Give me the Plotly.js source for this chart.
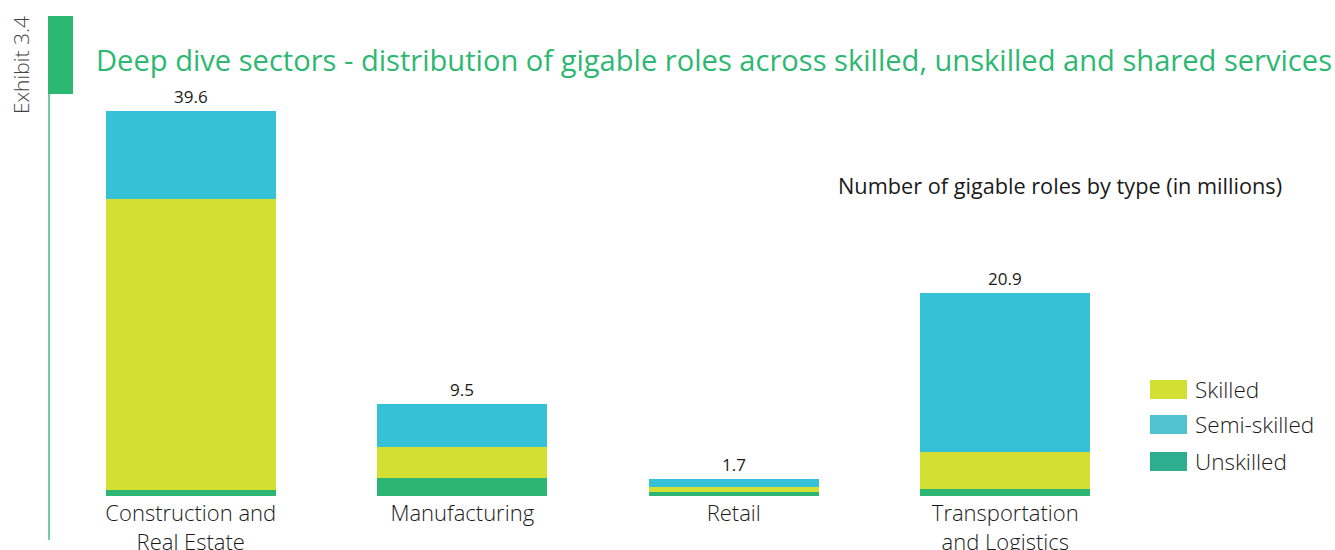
<!DOCTYPE html>
<html><head><meta charset="utf-8">
<script src="https://cdn.plot.ly/plotly-3.0.1.min.js"></script>
<style>html,body{margin:0;padding:0;background:#fff;}#chart{width:1335px;height:550px;}</style>
</head><body><div id="chart"></div>
<script>
const categories = ["Construction and<br>Real Estate", "Manufacturing", "Retail", "Transportation<br>and Logistics"];
const unskilled = [0.6, 1.9, 0.4, 0.7];
const skilled = [30.0, 3.1, 0.5, 3.8];
const semiSkilled = [9.0, 4.5, 0.8, 16.4];
const totalLabels = ["39.6", "9.5", "1.7", "20.9"];
const legendNames = ["Skilled", "Semi-skilled", "Unskilled"];

const FONT = "'Open Sans', sans-serif";
const C_SKILLED = "#d4df33", C_SEMI = "#36c1d6", C_UNSK = "#2db573";

const traces = [
  {type:"bar", name:"Unskilled", x:categories, y:unskilled, marker:{color:C_UNSK}},
  {type:"bar", name:"Skilled", x:categories, y:skilled, marker:{color:C_SKILLED}},
  {type:"bar", name:"Semi-skilled", x:categories, y:semiSkilled, marker:{color:C_SEMI}}
].map(t => Object.assign(t, {width:0.626, hoverinfo:"skip"}));

const totals = categories.map((c,i) => unskilled[i] + skilled[i] + semiSkilled[i]);

const annotations = categories.map((c,i) => ({
  x:c, y:totals[i], xref:"x", yref:"y", text:totalLabels[i], showarrow:false,
  yanchor:"bottom", yshift:1, font:{family:FONT, size:17, color:"#1a1a1a"}
}));

const px = v => (v-55)/1086, py = v => (496-v)/408;
// Title
annotations.push({xref:"paper", yref:"paper", x:px(94), y:py(60), xanchor:"left", yanchor:"middle",
  text:"Deep dive sectors - distribution of gigable roles across skilled, unskilled and shared services",
  showarrow:false, font:{family:FONT, size:29.1, color:"#2db872", weight:400}});
// Exhibit label
annotations.push({xref:"paper", yref:"paper", x:px(21), y:py(65), xanchor:"center", yanchor:"middle",
  text:"Exhibit 3.4", textangle:-90, showarrow:false, font:{family:FONT, size:21, color:"#444", weight:300}});
// Subtitle
annotations.push({xref:"paper", yref:"paper", x:px(836), y:py(185), xanchor:"left", yanchor:"middle",
  text:"Number of gigable roles by type (in millions)", showarrow:false, font:{family:FONT, size:21.7, color:"#1a1a1a"}});

// Custom legend
const legColors = ["#d4df33", "#4fc3cf", "#2dae8f"];
const legY = [389.5, 424.5, 461.5];
const shapes = [];
legendNames.forEach((n,i) => {
  shapes.push({type:"rect", xref:"paper", yref:"paper", x0:px(1150), x1:px(1187), y0:py(legY[i]-9.5), y1:py(legY[i]+9.5),
    fillcolor:legColors[i], line:{width:0}});
  annotations.push({xref:"paper", yref:"paper", x:px(1193), y:py(legY[i]), xanchor:"left", yanchor:"middle",
    text:n, showarrow:false, font:{family:FONT, size:22.5, color:"#1a1a1a", weight:300}});
});
// Decorative left bar and line
shapes.push({type:"line", xref:"paper", yref:"paper", x0:px(49), x1:px(49), y0:py(94), y1:py(540), line:{color:"#6fcf9f", width:2}});
shapes.push({type:"rect", xref:"paper", yref:"paper", x0:px(48), x1:px(73), y0:py(94), y1:py(16), fillcolor:"#2db872", line:{width:0}});

const layout = {
  width:1335, height:550, barmode:"stack", showlegend:false,
  margin:{l:55, r:194, t:88, b:54}, paper_bgcolor:"#fff", plot_bgcolor:"#fff",
  xaxis:{range:[-0.5,3.5], showgrid:false, zeroline:false, showline:false, ticks:"", ticklen:0,
    ticklabelstandoff:2,
    tickfont:{family:FONT, size:22, color:"#1a1a1a", weight:300}, automargin:false},
  yaxis:{range:[0,42], visible:false, fixedrange:true},
  annotations:annotations, shapes:shapes, font:{family:FONT}
};
Plotly.newPlot("chart", traces, layout, {displayModeBar:false, staticPlot:true});
</script></body></html>
